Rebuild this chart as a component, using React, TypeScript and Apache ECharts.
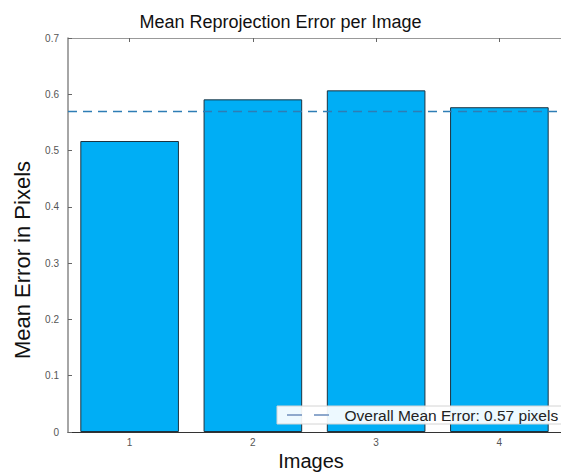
import React, { useEffect, useRef } from "react";
import * as echarts from "echarts";

const categories = ["1", "2", "3", "4"];
const errors = [0.517, 0.591, 0.607, 0.577];
const meanError = 0.574;
const legendLabel = "Overall Mean Error: 0.57 pixels";
const yMin = 0;
const yMax = 0.7;
const yInterval = 0.1;

const FONT = "Liberation Sans, Arial, Helvetica, sans-serif";
const DASH_ICON = "path://M0,0h15v2h-15z M27,0h15v2h-15z";

export default function App() {
  const ref = useRef<HTMLDivElement>(null);
  useEffect(() => {
    if (!ref.current) return;
    const chart = echarts.init(ref.current, undefined, { renderer: "svg" });
    chart.setOption({
      animation: false,
      backgroundColor: "#ffffff",
      title: {
        text: "Mean Reprojection Error per Image",
        left: "center",
        top: 8,
        textStyle: { fontFamily: FONT, fontSize: 18, fontWeight: "normal", color: "#111" },
      },
      grid: { left: 68, top: 38, width: 500, height: 394 },
      legend: {
        data: [{ name: legendLabel, icon: DASH_ICON }],
        left: 277,
        top: 406,
        padding: [1, 4, 1, 10],
        itemWidth: 43,
        itemHeight: 2,
        backgroundColor: "rgba(255,255,255,0.93)",
        borderColor: "#d4d4d4",
        borderWidth: 1,
        itemStyle: { color: "#8ea8cc", borderWidth: 0 },
        textStyle: { fontFamily: FONT, fontSize: 15.5, color: "#222", padding: [0, 0, 0, 10] },
      },
      xAxis: [
        {
          type: "category",
          data: categories,
          position: "bottom",
          axisLine: { lineStyle: { color: "#333", width: 1.2 } },
          axisTick: { show: true, inside: true, alignWithLabel: true, length: 4, lineStyle: { color: "#555" } },
          axisLabel: { fontFamily: FONT, fontSize: 10, color: "#555", margin: 5 },
          splitLine: { show: false },
        },
        {
          type: "category",
          data: categories,
          position: "top",
          axisLine: { lineStyle: { color: "#999", width: 1.2 } },
          axisTick: { show: true, inside: true, alignWithLabel: true, length: 4, lineStyle: { color: "#666" } },
          axisLabel: { show: false },
          splitLine: { show: false },
        },
      ],
      yAxis: {
        type: "value",
        min: yMin,
        max: yMax,
        interval: yInterval,
        axisLine: { show: true, lineStyle: { color: "#888", width: 1.5 } },
        axisTick: { show: true, inside: true, length: 4, lineStyle: { color: "#666" } },
        axisLabel: { fontFamily: FONT, fontSize: 10, color: "#555", margin: 9 },
        splitLine: { show: false },
      },
      series: [
        {
          type: "bar",
          data: errors,
          xAxisIndex: 0,
          barCategoryGap: "20%",
          itemStyle: { color: "#00AEF5", borderColor: "#1c3340", borderWidth: 1 },
        },
        {
          type: "line",
          name: legendLabel,
          data: [],
          xAxisIndex: 0,
          symbol: "none",
          color: "#8ea8cc",
          lineStyle: { type: [8, 5], width: 1.5, color: "#8ea8cc" },
          markLine: {
            silent: true,
            symbol: "none",
            label: { show: false },
            lineStyle: { type: [9, 6], width: 1.3, color: "#2e7db5" },
            data: [{ yAxis: meanError }],
          },
        },
      ],
      graphic: [
        {
          type: "text",
          x: 22,
          y: 260,
          rotation: Math.PI / 2,
          style: {
            text: "Mean Error in Pixels",
            fontFamily: FONT,
            fontSize: 22,
            fill: "#111",
            align: "center",
            verticalAlign: "middle",
          },
        },
        {
          type: "text",
          x: 311,
          y: 461,
          style: {
            text: "Images",
            fontFamily: FONT,
            fontSize: 20,
            fill: "#111",
            align: "center",
            verticalAlign: "middle",
          },
        },
      ],
    });
    return () => chart.dispose();
  }, []);
  return (
    <div
      ref={ref}
      style={{ position: "fixed", left: 0, top: 0, width: 561, height: 472 }}
    />
  );
}
